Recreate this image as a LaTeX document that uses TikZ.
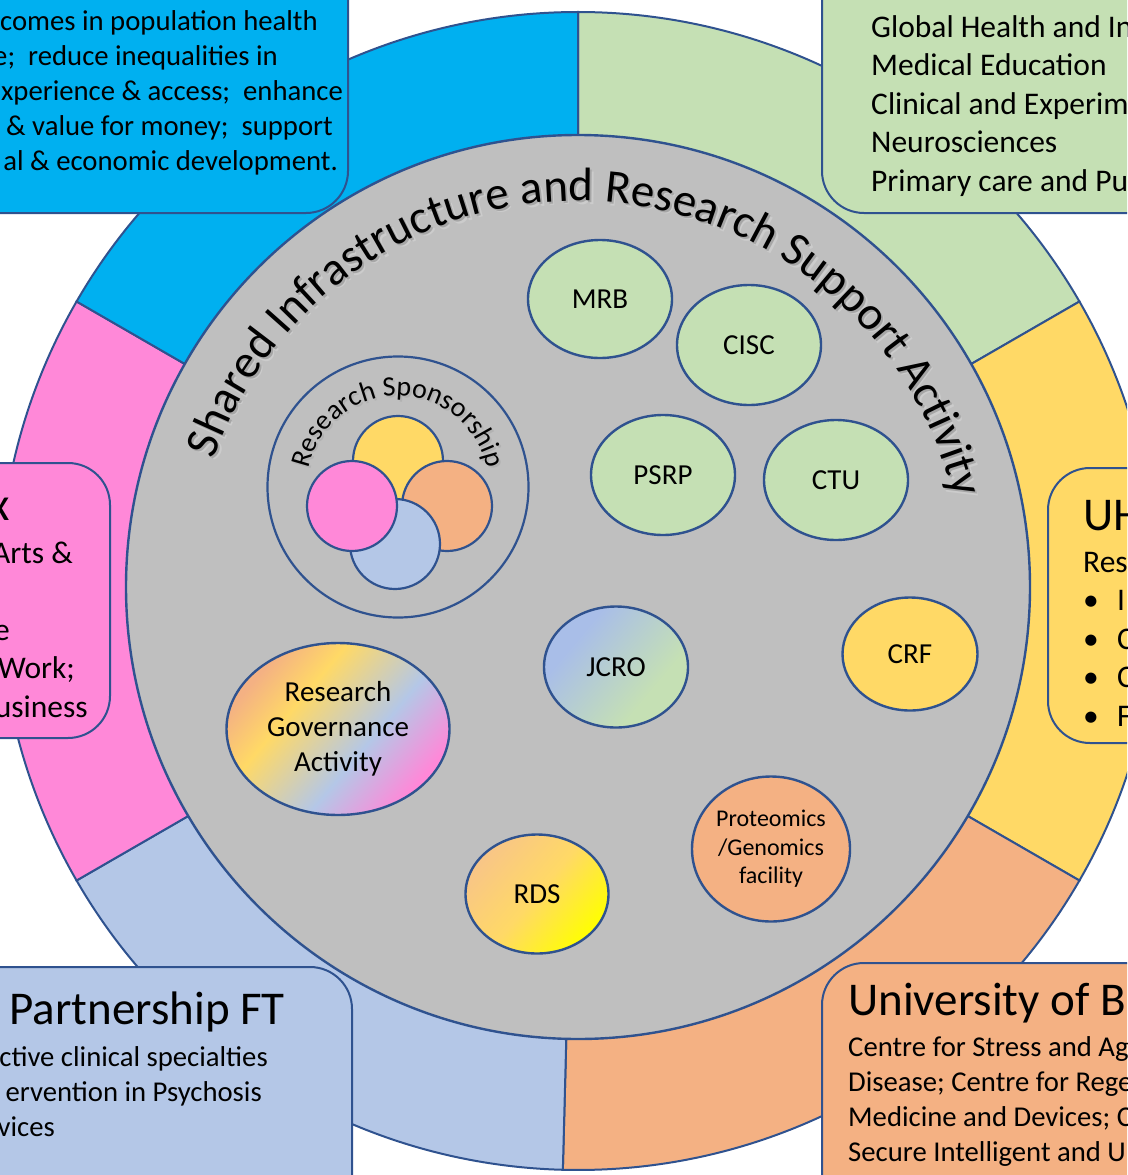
\documentclass[tikz,border=0pt]{standalone}
\usepackage{fontspec}
\setmainfont{Carlito}
\usetikzlibrary{shapes.geometric,decorations.text}

\definecolor{rim}{HTML}{2F528F}
\definecolor{hubgray}{HTML}{BFBFBF}
\definecolor{cblue}{HTML}{00B0F0}
\definecolor{cgreen}{HTML}{C5E0B4}
\definecolor{cyellow}{HTML}{FFD966}
\definecolor{corange}{HTML}{F4B183}
\definecolor{clblue}{HTML}{B4C7E7}
\definecolor{cpink}{HTML}{FF88D8}
\definecolor{cjcro}{HTML}{A9BEE8}
\definecolor{crds}{HTML}{F8C587}
\definecolor{cbright}{HTML}{FFFF00}

\pgfdeclarehorizontalshading{govshade}{100bp}{color(0bp)=(corange); color(26bp)=(corange);
  color(38bp)=(cyellow); color(58bp)=(clblue); color(74bp)=(cpink); color(100bp)=(cpink)}
\pgfdeclarehorizontalshading{jcroshade}{100bp}{color(0bp)=(cjcro); color(32bp)=(cjcro);
  color(66bp)=(cgreen); color(100bp)=(cgreen)}
\pgfdeclarehorizontalshading{rdsshade}{100bp}{color(0bp)=(crds); color(25bp)=(crds);
  color(50bp)=(cyellow); color(75bp)=(cbright); color(100bp)=(cbright)}

\begin{document}
\begin{tikzpicture}
                    [x=1pt, y=1pt,
                    seg/.style={draw=rim, line width=2pt},
                    panel/.style={draw=rim, line width=2pt,
                        rounded corners=42pt},
                    unit/.style={ellipse,
                        draw=rim, line width=2.4pt,
                        inner sep=0pt, align=center,
                        font=\fontsize{29}{35}\selectfont},
                    bub/.style={circle,
                        draw=rim, line width=2.2pt,
                        inner sep=0pt, minimum size=90pt},
                    body/.style={inner sep=0pt,
                        font=\fontsize{31.5}{38.5}\selectfont},
                    small/.style={inner sep=0pt,
                        font=\fontsize{28.7}{35}\selectfont},
                    head/.style={inner sep=0pt,
                        font=\fontsize{47}{56}\selectfont}]

                    \useasboundingbox (0,0) rectangle (1127,-1175);
                    \clip (0,0) rectangle (1127,-1175);

                    \coordinate (C) at (578,-591);

                    % partner ring
                    \foreach \a/\b/\c in {90/30/cgreen, 30/-30/cyellow,
                        -30/-91.5/corange, -91.5/-150/clblue,
                        210/150/cpink, 150/90/cblue}
                        \draw[seg, fill=\c] (C) -- ([shift={(\a:579)}]C)
                            arc[start angle=\a, end angle=\b, radius=579] -- cycle;

                    \node[circle, draw=rim, line width=2.4pt, fill=hubgray,
                        inner sep=0pt, minimum size=904pt]
                        (hub) at (578,-587) {};

                    % partner panels
                    \draw[panel, fill=cblue]   (-60,60) rectangle (348,-213);
                    \draw[panel, fill=cgreen]  (822,60) rectangle (1190,-213);
                    \draw[panel, fill=cpink]   (-60,-463) rectangle (110,-738);
                    \draw[panel, fill=cyellow] (1048,-468) rectangle (1190,-743);
                    \draw[panel, fill=clblue]  (-60,-967) rectangle (352,-1240);
                    \draw[panel, fill=corange] (822,-963) rectangle (1190,-1240);

                    \foreach \x/\y/\t [count=\i] in {318/30/comes in population health,
                        278/65/e;~ reduce inequalities in,
                        343/100/xperience \& access;~ enhance,
                        333/135/\& value for money;~ support,
                        338/170/al \& economic development.}
                        \node[small, anchor=base east] (aim\i) at (\x,-\y) {\t};

                    \foreach \t [count=\i] in {Global Health and In, Medical Education,
                        Clinical and Experim, Neurosciences, Primary care and Pu}
                        \node[body, anchor=base west] (fac\i)
                            at (871,{-37-38.5*(\i-1)}) {\t};

                    \node[head, anchor=base east] (uoshead) at (10,-520) {x};
                    \foreach \x/\y/\t [count=\i] in {73/563/Arts \&, 10/640/e,
                        75/678.5/Work;, 88/717/usiness}
                        \node[body, anchor=base east] (uos\i) at (\x,-\y) {\t};

                    \node[head, anchor=base west] (uhhead) at (1083,-530) {UH};
                    \node[body, anchor=base west] (uhres) at (1083,-572) {Res};
                    \foreach \t [count=\i] in {I, C, C, F}
                        \node[body, anchor=base west] (uh\i)
                            at (1083,{-610.5-38.5*(\i-1)})
                            {\makebox[34pt][l]{\textbullet}\t};

                    \node[head, anchor=base east] (sphead) at (285,-1024) {Partnership FT};
                    \foreach \x/\y/\t [count=\i] in {268/1066/ctive clinical specialties,
                        262/1101/ervention in Psychosis, 55/1136/vices}
                        \node[small, anchor=base east] (sp\i) at (\x,-\y) {\t};

                    \node[head, anchor=base west] (ubhead) at (848,-1015) {University of B};
                    \foreach \t [count=\i] in {Centre for Stress and Ag,
                        Disease; Centre for Rege, Medicine and Devices; C,
                        Secure Intelligent and U}
                        \node[small, anchor=base west] (ub\i)
                            at (848,{-1056-35*(\i-1)}) {\t};

                    % curved hub title, soft shadow first
                    \foreach \s/\g in {3.5/20, 2/35}
                        \path[decorate, decoration={text along path, text align=center,
                            text={|\color{black!\g}\fontsize{47}{47}\selectfont|Shared Infrastructure and Research Support Activity}}]
                            ([shift={(174:386)}, shift={(\s,-\s)}]hub.center)
                                arc[start angle=174, end angle=0, radius=386];
                    \path[decorate, decoration={text along path, text align=center,
                        text={|\fontsize{47}{47}\selectfont|Shared Infrastructure and Research Support Activity}}]
                        ([shift={(174:386)}]hub.center)
                            arc[start angle=174, end angle=0, radius=386];

                    % sponsorship
                    \node[circle, draw=rim, line width=2.2pt, inner sep=0pt,
                        minimum size=261pt] (spons) at (398,-487) {};
                    \path[decorate, decoration={text along path, text align=center,
                        text={|\color{black!30}\fontsize{28}{28}\selectfont|Research Sponsorship}}]
                        ([shift={(178:91)}, shift={(1.8,-1.8)}]spons.center)
                            arc[start angle=178, end angle=2, radius=91];
                    \path[decorate, decoration={text along path, text align=center,
                        text={|\fontsize{28}{28}\selectfont|Research Sponsorship}}]
                        ([shift={(178:91)}]spons.center)
                            arc[start angle=178, end angle=2, radius=91];
                    \node[bub, fill=cyellow] (sy) at (398,-461) {};
                    \node[bub, fill=corange] (so) at (447,-506) {};
                    \node[bub, fill=clblue]  (sb) at (395,-544) {};
                    \node[bub, fill=cpink]   (sp) at (352,-506) {};

                    % support units
                    \node[unit, fill=cgreen, minimum width=144pt, minimum height=118pt]
                        (mrb) at (600,-299) {MRB};
                    \node[unit, fill=cgreen, minimum width=144pt, minimum height=120pt]
                        (cisc) at (749,-345) {CISC};
                    \node[unit, fill=cgreen, minimum width=144pt, minimum height=120pt]
                        (psrp) at (663,-475) {PSRP};
                    \node[unit, fill=cgreen, minimum width=144pt, minimum height=120pt]
                        (ctu) at (836,-480) {CTU};
                    \node[unit, fill=cyellow, minimum width=135pt, minimum height=113pt]
                        (crf) at (910,-654) {CRF};
                    \node[unit, shade, shading=jcroshade, shading angle=-40,
                        minimum width=144pt, minimum height=121pt]
                        (jcro) at (616,-667) {JCRO};
                    \node[unit, shade, shading=govshade, shading angle=-40,
                        minimum width=223pt, minimum height=172pt]
                        (gov) at (338,-729) {Research\\Governance\\Activity};
                    \node[unit, shade, shading=rdsshade, shading angle=-40,
                        minimum width=143pt, minimum height=119pt]
                        (rds) at (537,-894) {RDS};
                    \node[unit, fill=corange, minimum width=158pt, minimum height=145pt,
                        font=\fontsize{24}{28.5}\selectfont]
                        (prot) at (771,-849) {Proteomics\\/Genomics\\facility};
                \end{tikzpicture}
\end{document}
